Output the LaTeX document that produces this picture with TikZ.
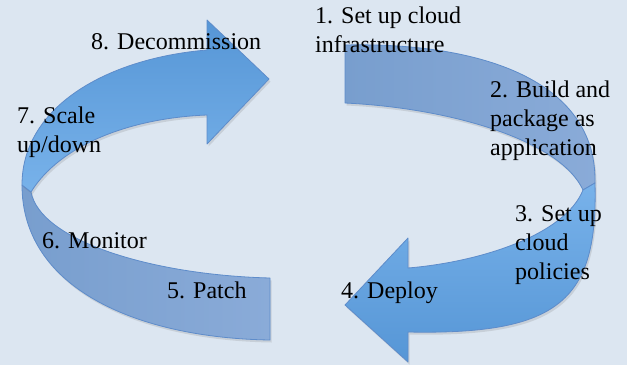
\documentclass[tikz,border=0pt]{standalone}
\usepackage{fontspec}
\setmainfont{Liberation Serif}
\usetikzlibrary{shadows}
\definecolor{bgblue}{RGB}{220,230,241}
\definecolor{backdark}{RGB}{120,158,206}
\definecolor{backlight}{RGB}{138,171,216}
\definecolor{frontdark}{RGB}{86,150,214}
\definecolor{frontlight}{RGB}{120,178,234}
\definecolor{edgeblue}{RGB}{94,140,202}
\tikzset{
  ribbon/.style={draw=edgeblue, line width=0.8pt, line join=round,
    drop shadow={opacity=0.22, shadow xshift=1.5pt, shadow yshift=-2.5pt}},
  backface/.style={ribbon, left color=backdark, right color=backlight},
  frontface/.style={ribbon, top color=frontdark, bottom color=frontlight},
  % multi-line labels sit on the baseline of their last line
  steplabel/.style={font=\fontsize{24}{29}\selectfont, align=left,
    inner sep=0pt, anchor=base west}
}
\begin{document}
\begin{tikzpicture}[x=1pt, y=-1pt]
  \fill[bgblue] (0,0) rectangle (627,365);
  \useasboundingbox (0,0) rectangle (627,365);
  % left ribbon: back face along the bottom, front face up to the head
  \draw[backface] (270,278) -- (270,340)
    .. controls (140,338) and (22,290) .. (22,185) -- (31,192)
    .. controls (40,240) and (150,275) .. (270,278) -- cycle;
  \draw[frontface] (22,185) .. controls (22,105) and (110,58) .. (207,50)
    -- (207,20) -- (269,79) -- (207,144) -- (207,115)
    .. controls (130,118) and (60,145) .. (31,192) -- cycle;
  % right ribbon: back face along the top, front face down to the head
  \draw[backface] (345,45) .. controls (480,42) and (597,80) .. (595,183)
    -- (583,190) .. controls (560,140) and (450,108) .. (345,103) -- cycle;
  \draw[frontface, top color=frontlight, bottom color=frontdark]
    (595,183) .. controls (598,300) and (560,335) .. (408,332)
    -- (408,362) -- (345,305) -- (408,238) -- (408,268)
    .. controls (480,262) and (565,235) .. (583,190) -- cycle;
  % step labels
  \node[steplabel] (l1) at (315,52) {1. Set up cloud\\infrastructure};
  \node[steplabel] (l2) at (490,155) {2. Build and\\package as\\application};
  \node[steplabel] (l3) at (515,279) {3. Set up\\cloud\\policies};
  \node[steplabel] (l4) at (341,298) {4. Deploy};
  \node[steplabel] (l5) at (167,298) {5. Patch};
  \node[steplabel] (l6) at (42,248) {6. Monitor};
  \node[steplabel] (l7) at (17,152) {7. Scale\\up/down};
  \node[steplabel] (l8) at (91,49) {8. Decommission};
\end{tikzpicture}
\end{document}
